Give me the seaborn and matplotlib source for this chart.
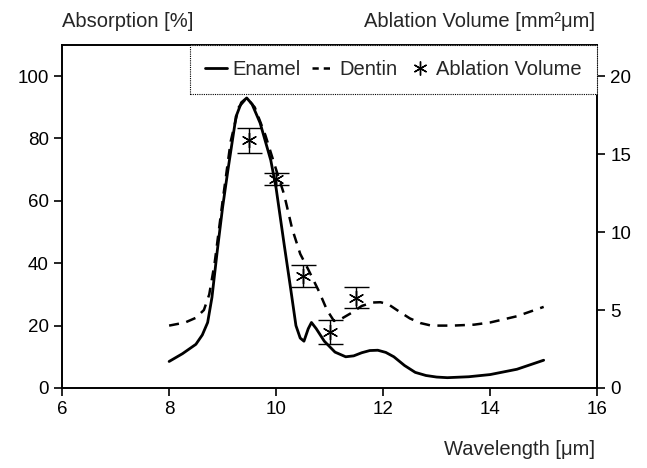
import numpy as np
import pandas as pd
import matplotlib
matplotlib.use("Agg")
import matplotlib.pyplot as plt
import seaborn as sns
from matplotlib.lines import Line2D

sns.set_style("ticks")
plt.rcParams['font.family'] = ['Liberation Sans', 'DejaVu Sans']

# absorption curves (left axis, %)
enamel_x = [8.0, 8.25, 8.5, 8.62, 8.72, 8.8, 8.9, 9.0, 9.1, 9.25, 9.35, 9.45, 9.55,
            9.7, 9.9, 10.0, 10.15, 10.27, 10.37, 10.45, 10.52, 10.6, 10.66, 10.75,
            10.9, 11.1, 11.3, 11.45, 11.6, 11.75, 11.9, 12.05, 12.2, 12.4, 12.6, 12.8,
            13.0, 13.2, 13.6, 14.0, 14.5, 15.0]
enamel_y = [8.5, 11, 14, 17, 21, 29, 44, 58, 70, 87, 91.5, 93, 91,
            85, 73, 64, 46, 32, 20, 16, 15, 19, 21, 19,
            15, 11.5, 10, 10.3, 11.3, 12, 12.1, 11.4, 10, 7.2, 5, 4,
            3.5, 3.3, 3.6, 4.3, 6, 8.9]

dentin_x = [8.0, 8.3, 8.5, 8.65, 8.75, 8.85, 9.0, 9.15, 9.3, 9.45, 9.6, 9.8, 10.0, 10.15,
            10.3, 10.45, 10.6, 10.8, 10.95, 11.08, 11.2, 11.4, 11.6, 11.8, 11.95, 12.1,
            12.3, 12.5, 12.7, 12.9, 13.3, 13.7, 14.0, 14.5, 15.0]
dentin_y = [20, 21, 22.5, 25, 30, 40, 60, 79, 90, 93, 90, 81, 70, 62,
            51, 43, 38, 31, 25, 21.5, 22, 24, 26.3, 27.4, 27.5, 26.8,
            24.5, 22.3, 20.8, 20, 20, 20.3, 21, 23, 26]

# ablation volume (right axis, mm^2 um)
abl_x = [9.5, 10.0, 10.5, 11.0, 11.5]
abl_y = [15.9, 13.4, 7.2, 3.6, 5.8]
abl_err = [0.8, 0.4, 0.7, 0.75, 0.7]

enamel = pd.DataFrame({"wl": enamel_x, "abs": enamel_y})
dentin = pd.DataFrame({"wl": dentin_x, "abs": dentin_y})
ablation = pd.DataFrame({"wl": abl_x, "vol": abl_y, "err": abl_err})

fig = plt.figure(figsize=(6.47, 4.68), dpi=100)
ax = fig.add_axes([0.096, 0.171, 0.827, 0.733])

sns.lineplot(data=enamel, x="wl", y="abs", ax=ax, color="black", lw=2.0)
sns.lineplot(data=dentin, x="wl", y="abs", ax=ax, color="black", lw=1.8,
             linestyle=(0, (4, 3)))

ax.set_xlim(6, 16)
ax.set_ylim(0, 110)
ax.set_xticks([6, 8, 10, 12, 14, 16])
ax.set_yticks([0, 20, 40, 60, 80, 100])
ax.set_xlabel("")
ax.set_ylabel("")

ax2 = ax.twinx()
ax2.errorbar(ablation["wl"], ablation["vol"], yerr=ablation["err"], fmt="none",
             ecolor="black", elinewidth=1.0, capsize=9, capthick=1.0)
sns.scatterplot(data=ablation, x="wl", y="vol", ax=ax2, marker=(6, 2, 0),
                s=110, color="black", linewidth=1.0)
ax2.set_ylim(0, 22)
ax2.set_yticks([0, 5, 10, 15, 20])
ax2.set_ylabel("")
ax2.set_xlabel("")

for a in (ax, ax2):
    a.tick_params(direction="out", length=6, width=1.2, labelsize=13.5, colors="black")
    for s in a.spines.values():
        s.set_linewidth(1.2)
        s.set_color("black")

fig.text(0.096, 0.955, "Absorption [%]", fontsize=14.5, ha="left", va="center")
fig.text(0.920, 0.955, "Ablation Volume [mm²μm]", fontsize=14.5, ha="right", va="center")
fig.text(0.920, 0.040, "Wavelength [μm]", fontsize=14.5, ha="right", va="center")

handles = [
    Line2D([], [], color="black", lw=2.0),
    Line2D([], [], color="black", lw=1.8, linestyle=(0, (2.5, 2))),
    Line2D([], [], color="black", lw=0, marker=(6, 2, 0), markersize=10, markeredgewidth=1.0),
]
leg = ax2.legend(handles, ["Enamel", "Dentin", "Ablation Volume"], ncol=3,
                 loc="upper right", bbox_to_anchor=(0.239, 0.854, 0.761, 0.146),
                 mode="expand", borderaxespad=0,
                 fontsize=14.5, handlelength=1.1, handletextpad=0.25, columnspacing=0.3,
                 frameon=True, fancybox=False, borderpad=0.75)
leg.get_frame().set_edgecolor("black")
leg.get_frame().set_linestyle((0, (1, 1)))
leg.get_frame().set_linewidth(0.8)
leg.get_frame().set_facecolor("white")
leg.get_frame().set_alpha(1)
leg.set_zorder(10)

fig.savefig("out.png", dpi=100)
